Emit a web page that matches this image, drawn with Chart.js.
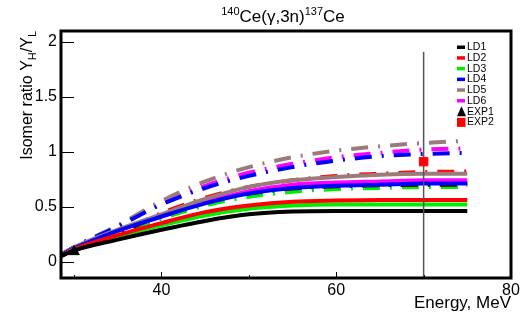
<!DOCTYPE html>
<html>
<head>
<meta charset="utf-8">
<script src="https://cdn.jsdelivr.net/npm/chart.js@4/dist/chart.umd.min.js"></script>
<style>
  body { margin: 0; background: #fff; }
  #wrap { width: 527px; height: 320px; }
</style>
</head>
<body>
<div id="wrap"><canvas id="ratioChart" width="527" height="320"></canvas></div>
<script>
// energies (MeV) where curves are sampled
var energy = [28.5, 30, 35, 40, 45, 50, 55, 60, 65, 70, 75];

// solid curves
var ld1Solid = [0.05, 0.10, 0.20, 0.29, 0.37, 0.43, 0.455, 0.46, 0.46, 0.46, 0.46];
var ld2Solid = [0.05, 0.11, 0.24, 0.35, 0.45, 0.51, 0.545, 0.555, 0.56, 0.56, 0.56];
var ld3Solid = [0.05, 0.11, 0.23, 0.33, 0.42, 0.48, 0.51, 0.52, 0.52, 0.52, 0.52];
var ld4Solid = [0.06, 0.12, 0.28, 0.41, 0.53, 0.62, 0.67, 0.69, 0.70, 0.71, 0.71];
var ld5Solid = [0.06, 0.13, 0.29, 0.43, 0.57, 0.68, 0.74, 0.77, 0.79, 0.80, 0.80];
var ld6Solid = [0.06, 0.12, 0.28, 0.41, 0.54, 0.64, 0.70, 0.72, 0.73, 0.74, 0.74];

// dash-dot curves
var ld1Dash = [0.05, 0.11, 0.26, 0.42, 0.55, 0.62, 0.665, 0.685, 0.695, 0.70, 0.70];
var ld2Dash = [0.05, 0.12, 0.27, 0.44, 0.58, 0.68, 0.74, 0.78, 0.80, 0.815, 0.82];
var ld3Dash = [0.05, 0.11, 0.24, 0.39, 0.51, 0.59, 0.635, 0.66, 0.67, 0.68, 0.68];
var ld4Dash = [0.06, 0.13, 0.32, 0.52, 0.67, 0.78, 0.86, 0.92, 0.96, 0.98, 0.99];
var ld5Dash = [0.06, 0.13, 0.33, 0.55, 0.73, 0.86, 0.95, 1.01, 1.05, 1.08, 1.10];
var ld6Dash = [0.06, 0.13, 0.32, 0.53, 0.69, 0.81, 0.89, 0.95, 0.99, 1.02, 1.03];

// experimental points
var exp1Energy = [30];
var exp1Ratio = [0.09];
var exp2Energy = [70];
var exp2Ratio = [0.91];
var exp2ErrLow = [-0.2];
var exp2ErrHigh = [1.91];

// axis ticks
var xTicks = [30, 40, 50, 60, 70, 80];
var xLabeled = [40, 60, 80];
var yTicks = [0, 0.5, 1, 1.5, 2];

var ldLabels = ["LD1", "LD2", "LD3", "LD4", "LD5", "LD6"];
var ldColors = ["#000000", "#ff0000", "#00ee00", "#0000ff", "#9a7b7b", "#ff00ff"];

var solids = [ld1Solid, ld2Solid, ld3Solid, ld4Solid, ld5Solid, ld6Solid];
var dashes = [ld1Dash, ld2Dash, ld3Dash, ld4Dash, ld5Dash, ld6Dash];

function pts(xs, ys) {
	return xs.map(function (x, i) { return { x: x, y: ys[i] }; });
}

var FONT = "'Liberation Sans', Arial, sans-serif";

var datasets = [];
solids.forEach(function (vals, i) {
	datasets.push({
		label: ldLabels[i],
		data: pts(energy, vals),
		borderColor: ldColors[i],
		borderWidth: 4,
		pointRadius: 0,
		cubicInterpolationMode: 'monotone',
		order: 10 + i
	});
});
dashes.forEach(function (vals, i) {
	datasets.push({
		label: ldLabels[i] + ' dd',
		data: pts(energy, vals),
		borderColor: ldColors[i],
		borderWidth: 4,
		borderDash: [17, 10, 2, 10],
		borderCapStyle: 'butt',
		pointRadius: 0,
		cubicInterpolationMode: 'monotone',
		order: 30 + i
	});
});
datasets.push({
	label: 'EXP2 err',
	data: [{ x: exp2Energy[0], y: exp2ErrLow[0] }, { x: exp2Energy[0], y: exp2ErrHigh[0] }],
	borderColor: '#555555',
	borderWidth: 1.5,
	pointRadius: 0,
	order: 2
});
datasets.push({
	label: 'EXP1',
	type: 'scatter',
	data: pts(exp1Energy, exp1Ratio),
	pointStyle: 'triangle',
	pointRadius: 6,
	backgroundColor: '#000',
	borderColor: '#000',
	order: 1
});
datasets.push({
	label: 'EXP2',
	type: 'scatter',
	data: pts(exp2Energy, exp2Ratio),
	pointStyle: 'rect',
	pointRadius: 6,
	backgroundColor: '#ff0000',
	borderColor: '#ff0000',
	order: 1
});

// frame, inward ticks, titles and legend
var decor = {
	id: 'decor',
	afterDraw: function (chart) {
		var ctx = chart.ctx;
		var a = chart.chartArea;
		var xs = chart.scales.x;
		var ys = chart.scales.y;
		ctx.save();
		ctx.strokeStyle = '#000';
		ctx.lineWidth = 1;
		yTicks.forEach(function (v) {
			var p = Math.round(ys.getPixelForValue(v)) + 0.5;
			ctx.beginPath(); ctx.moveTo(a.left, p); ctx.lineTo(a.left + 13, p); ctx.stroke();
		});
		xTicks.forEach(function (v) {
			var p = Math.round(xs.getPixelForValue(v)) + 0.5;
			var len = xLabeled.indexOf(v) >= 0 ? 6 : 3;
			ctx.beginPath(); ctx.moveTo(p, a.bottom); ctx.lineTo(p, a.bottom - len); ctx.stroke();
		});
		ctx.lineWidth = 3;
		ctx.strokeRect(a.left, a.top, a.right - a.left, a.bottom - a.top);

		ctx.fillStyle = '#000';
		// title with superscripts
		var big = '17px ' + FONT, small = '11px ' + FONT;
		var parts = [['140', small, -7], ['Ce(\u03b3,3n)', big, 0], ['137', small, -7], ['Ce', big, 0]];
		var total = 0;
		parts.forEach(function (p) { ctx.font = p[1]; total += ctx.measureText(p[0]).width; });
		var tx = 283 - total / 2;
		ctx.textBaseline = 'alphabetic';
		ctx.textAlign = 'left';
		parts.forEach(function (p) {
			ctx.font = p[1];
			ctx.fillText(p[0], tx, 22 + p[2]);
			tx += ctx.measureText(p[0]).width;
		});

		// x title
		ctx.font = '17px ' + FONT;
		ctx.textAlign = 'right';
		ctx.fillText('Energy, MeV', a.right, 308);

		// y title, rotated, with subscripts
		ctx.save();
		ctx.translate(32, a.top);
		ctx.rotate(-Math.PI / 2);
		var yparts = [['Isomer ratio Y', '16px ' + FONT, 0], ['H', '11px ' + FONT, 4], ['/Y', '16px ' + FONT, 0], ['L', '11px ' + FONT, 4]];
		var yw = 0;
		yparts.forEach(function (p) { ctx.font = p[1]; yw += ctx.measureText(p[0]).width; });
		var yx = -yw;
		ctx.textAlign = 'left';
		yparts.forEach(function (p) {
			ctx.font = p[1];
			ctx.fillText(p[0], yx, p[2]);
			yx += ctx.measureText(p[0]).width;
		});
		ctx.restore();

		// legend
		ctx.font = '10.5px ' + FONT;
		ctx.textAlign = 'left';
		ctx.textBaseline = 'middle';
		var lx = 457, ly = 47, step = 10.7;
		ldLabels.forEach(function (lab, i) {
			var yy = ly + i * step;
			ctx.fillStyle = ldColors[i];
			ctx.fillRect(lx, yy - 1.5, 8, 3.5);
			ctx.fillStyle = '#000';
			ctx.fillText(lab, lx + 10, yy + 0.5);
		});
		var ey = ly + 6 * step;
		ctx.beginPath();
		ctx.moveTo(lx + 4.5, ey - 5); ctx.lineTo(lx + 9, ey + 5); ctx.lineTo(lx, ey + 5); ctx.closePath();
		ctx.fill();
		ctx.fillText('EXP1', lx + 10, ey + 0.5);
		ey += step;
		ctx.fillStyle = '#ff0000';
		ctx.fillRect(lx, ey - 4, 8.5, 9);
		ctx.fillStyle = '#000';
		ctx.fillText('EXP2', lx + 10, ey + 0.5);
		ctx.restore();
	}
};

var ctx = document.getElementById('ratioChart');
var chart = new Chart(ctx, {
	type: 'line',
	data: { datasets: datasets },
	options: {
		responsive: false,
		animation: false,
		layout: { padding: { top: 31, right: 16, left: 0, bottom: 0 } },
		plugins: { legend: { display: false }, tooltip: { enabled: false } },
		scales: {
			x: {
				type: 'linear',
				min: 28.5,
				max: 80,
				afterFit: function (s) { s.height = 42; },
				afterBuildTicks: function (s) { s.ticks = xTicks.map(function (v) { return { value: v }; }); },
				grid: { display: false, drawTicks: false },
				border: { display: false },
				ticks: {
					padding: 3,
					color: '#000',
					font: { family: FONT, size: 16 },
					maxRotation: 0,
					autoSkip: false,
					callback: function (v) { return xLabeled.indexOf(v) >= 0 ? String(v) : ''; }
				}
			},
			y: {
				type: 'linear',
				min: -0.15,
				max: 2.1,
				afterFit: function (s) { s.width = 61; },
				afterBuildTicks: function (s) { s.ticks = yTicks.map(function (v) { return { value: v }; }); },
				grid: { display: false, drawTicks: false },
				border: { display: false },
				ticks: {
					padding: 4,
					color: '#000',
					font: { family: FONT, size: 16 },
					callback: function (v) { return String(v); }
				}
			}
		}
	},
	plugins: [decor]
});
</script>
</body>
</html>
